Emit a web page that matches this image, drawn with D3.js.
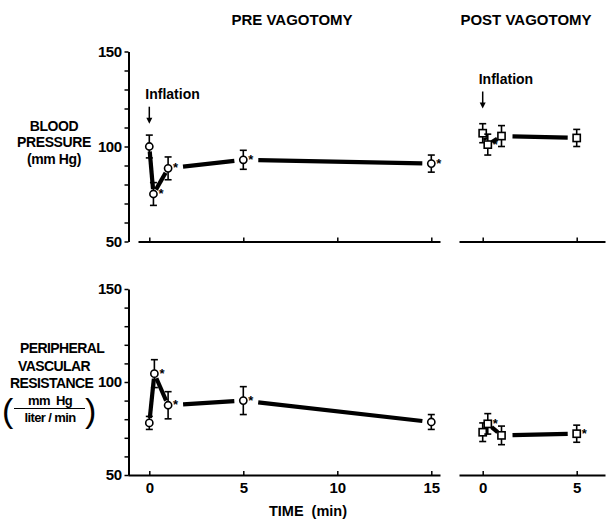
<!DOCTYPE html>
<html><head><meta charset="utf-8">
<script src="https://cdn.jsdelivr.net/npm/d3@7/dist/d3.min.js"></script>
<style>
body{margin:0;background:#fff;}
svg{font-family:"Liberation Sans",Arial,sans-serif;}
</style></head>
<body><svg id="c" width="607" height="519"></svg>
<script>
// ---- data ----
const bpPreTime  = [0, 0.22, 1, 5, 15];
const bpPreMean  = [100, 75, 88.5, 93, 91];
const bpPreSE    = [6, 6, 6, 5, 4.5];
const bpPreSig   = [0, 1, 1, 1, 1];

const bpPostTime = [0, 0.27, 1, 5];
const bpPostMean = [107, 101, 105.5, 104.5];
const bpPostSE   = [5, 5.5, 5.5, 4.5];
const bpPostSig  = [0, 1, 0, 0];

const pvrPreTime = [0, 0.27, 1, 5, 15];
const pvrPreMean = [78, 104.5, 87.5, 90, 78.5];
const pvrPreSE   = [3.5, 7.5, 7.3, 7.5, 4];
const pvrPreSig  = [0, 1, 1, 1, 0];

const pvrPostTime = [0, 0.27, 1, 5];
const pvrPostMean = [73, 77.5, 71.3, 72.2];
const pvrPostSE   = [5, 5.5, 5, 4.6];
const pvrPostSig  = [0, 1, 0, 1];

const yTickValues = [50, 60, 70, 80, 90, 100, 110, 120, 130, 140, 150];
const yTickLabels = [50, 100, 150];
const preXTicks = [0, 5, 10, 15];
const postXTicks = [0, 5];
const titles = ["PRE VAGOTOMY", "POST VAGOTOMY"];
const xTitle = "TIME  (min)";
const annotation = "Inflation";

// ---- layout ----
const svg = d3.select("#c");
const xPre  = d3.scaleLinear().domain([0, 15]).range([149.3, 431.3]);
const xPost = d3.scaleLinear().domain([0, 5]).range([482.7, 576.7]);
const yTop  = d3.scaleLinear().domain([50, 150]).range([241.5, 51.5]);
const yBot  = d3.scaleLinear().domain([50, 150]).range([475, 289]);

function extScale(s, a, b){ return d3.scaleLinear().domain([s.invert(a), s.invert(b)]).range([a, b]); }

function yAxis(y){
  const g = svg.append("g").attr("transform","translate(128.5,0)")
    .call(d3.axisLeft(y).tickValues(yTickValues).tickSize(4).tickSizeOuter(0).tickPadding(3)
      .tickFormat(d => yTickLabels.includes(d) ? d : ""));
  g.select(".domain").attr("stroke-width",2);
  g.selectAll(".tick line").attr("stroke-width",1.5);
  g.selectAll("text").attr("font-size",15).attr("font-weight","bold").attr("fill","#000").attr("letter-spacing","-0.5");
}
function xAxis(scale, a, b, y, ticks, labels){
  const s = extScale(scale, a, b);
  const g = svg.append("g").attr("transform",`translate(0,${y})`)
    .call(d3.axisBottom(s).tickValues(ticks).tickSize(-4).tickSizeOuter(0).tickPadding(7)
      .tickFormat(d => labels ? d : ""));
  g.select(".domain").attr("stroke-width",2);
  g.selectAll(".tick line").attr("stroke-width",1.5);
  g.selectAll("text").attr("font-size",15).attr("font-weight","bold").attr("fill","#000");
}

yAxis(yTop); yAxis(yBot);
xAxis(xPre, 138, 440, yTop(50), preXTicks, false);
xAxis(xPre, 128, 440, yBot(50), preXTicks, true);
xAxis(xPost, 459, 605, yTop(50), postXTicks, false);
xAxis(xPost, 459, 605, yBot(50), postXTicks, true);

// ---- series ----
function series(x, y, times, means, ses, sig, shape){
  const pts = times.map((t,i)=>({x:x(t), y:y(means[i]), lo:y(means[i]-ses[i]), hi:y(means[i]+ses[i]), s:sig[i]}));
  const g = svg.append("g");
  for(let i=0;i<pts.length-1;i++){
    const p=pts[i], q=pts[i+1];
    const dx=q.x-p.x, dy=q.y-p.y, L=Math.hypot(dx,dy);
    const long = dx>30;
    const t0 = (5 + (long ? (p.s?10:6) : 0))/L;
    const t1 = (5 + (long ? 4 : 0))/L;
    g.append("line")
      .attr("x1", p.x+dx*t0).attr("y1", p.y+dy*t0)
      .attr("x2", q.x-dx*t1).attr("y2", q.y-dy*t1)
      .attr("stroke","#000").attr("stroke-width",4.2).attr("stroke-linecap","butt");
  }
  pts.forEach(p=>{
    g.append("line").attr("x1",p.x).attr("x2",p.x).attr("y1",p.lo).attr("y2",p.hi).attr("stroke","#000").attr("stroke-width",1.6);
    [p.lo,p.hi].forEach(yy=>g.append("line").attr("x1",p.x-3.5).attr("x2",p.x+3.5).attr("y1",yy).attr("y2",yy).attr("stroke","#000").attr("stroke-width",1.6));
    if(shape==="circle"){
      g.append("circle").attr("cx",p.x).attr("cy",p.y).attr("r",3.6).attr("fill","#fff").attr("stroke","#000").attr("stroke-width",1.6);
    } else {
      g.append("rect").attr("x",p.x-3.6).attr("y",p.y-3.6).attr("width",7.2).attr("height",7.2).attr("fill","#fff").attr("stroke","#000").attr("stroke-width",1.6);
    }
    if(p.s){
      g.append("text").attr("x",p.x+5).attr("y",p.y+4).text("*")
        .attr("font-size",13).attr("font-weight","bold");
    }
  });
}
series(xPre, yTop, bpPreTime, bpPreMean, bpPreSE, bpPreSig, "circle");
series(xPost, yTop, bpPostTime, bpPostMean, bpPostSE, bpPostSig, "square");
series(xPre, yBot, pvrPreTime, pvrPreMean, pvrPreSE, pvrPreSig, "circle");
series(xPost, yBot, pvrPostTime, pvrPostMean, pvrPostSE, pvrPostSig, "square");

// ---- inflation arrows ----
function inflation(x, tipVal, labelVal){
  const tx = x(0), tipY = yTop(tipVal), topY = yTop(labelVal);
  svg.append("text").attr("x",tx-4).attr("y",topY-6).text(annotation)
    .attr("font-size",14).attr("font-weight","bold");
  svg.append("line").attr("x1",tx).attr("x2",tx).attr("y1",topY+2).attr("y2",tipY-5).attr("stroke","#000").attr("stroke-width",1.5);
  svg.append("path").attr("d",`M${tx-3},${tipY-6}L${tx+3},${tipY-6}L${tx},${tipY}Z`).attr("fill","#000");
}
inflation(xPre, 112, 122);
inflation(xPost, 120, 130);

// ---- titles ----
svg.append("text").attr("x",292).attr("y",25).attr("text-anchor","middle").text(titles[0]).attr("font-size",15).attr("font-weight","bold");
svg.append("text").attr("x",526).attr("y",25).attr("text-anchor","middle").text(titles[1]).attr("font-size",15).attr("font-weight","bold");
svg.append("text").attr("x",308).attr("y",516).attr("text-anchor","middle").text(xTitle).attr("font-size",14.5).attr("font-weight","bold").style("white-space","pre");

// ---- y labels ----
const lab = svg.append("g").attr("font-size",14).attr("font-weight","bold").attr("text-anchor","middle").attr("letter-spacing","-0.4");
[["BLOOD",131],["PRESSURE",147],["(mm Hg)",164]].forEach(([t,y])=>lab.append("text").attr("x",54).attr("y",y).text(t));
const lab2 = svg.append("g").attr("font-size",14).attr("font-weight","bold").attr("letter-spacing","-0.6");
lab2.append("text").attr("x",20).attr("y",353).text("PERIPHERAL");
lab2.append("text").attr("x",18).attr("y",371).text("VASCULAR");
lab2.append("text").attr("x",10).attr("y",388).text("RESISTANCE");
lab2.append("text").attr("x",50).attr("y",405).attr("text-anchor","middle").text("mm  Hg").attr("font-size",13).style("white-space","pre");
lab2.append("line").attr("x1",14).attr("x2",85).attr("y1",408.5).attr("y2",408.5).attr("stroke","#000").attr("stroke-width",1.2);
lab2.append("text").attr("x",50).attr("y",422).attr("text-anchor","middle").text("liter / min").attr("font-size",13).style("white-space","pre");
svg.append("text").attr("x",2).attr("y",422).text("(").attr("font-size",34).attr("font-weight","normal");
svg.append("text").attr("x",85).attr("y",422).text(")").attr("font-size",34).attr("font-weight","normal");
</script></body></html>
